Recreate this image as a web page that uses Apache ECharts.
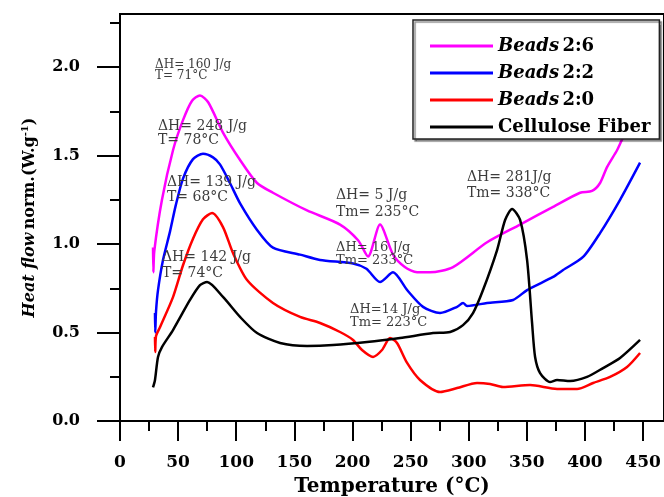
<!DOCTYPE html>
<html>
<head>
<meta charset="utf-8">
<script src="https://cdn.jsdelivr.net/npm/echarts@6.0.0/dist/echarts.min.js"></script>
<style>
  html, body { margin: 0; padding: 0; background: #fff; }
  #chart { width: 664px; height: 497px; }
</style>
</head>
<body>
<div id="chart"></div>
<script>
// [temperature °C, heat flow W/g]
var beads26 = [
  [28.4, 0.98], [28.7, 0.84], [29.5, 0.96], [36.1, 1.25], [45.6, 1.53], [54.2, 1.70],
  [62, 1.81], [68.8, 1.84], [76, 1.80], [88.6, 1.63], [103.3, 1.475], [117.9, 1.345],
  [131.6, 1.29], [160.9, 1.19], [189.3, 1.11], [205, 1.02], [213.4, 0.93], [223.7, 1.11],
  [234.9, 0.94], [245, 0.87], [255.6, 0.84], [266.7, 0.84], [286.5, 0.87], [315.8, 1.01],
  [344.2, 1.11], [372.6, 1.21], [395.8, 1.29], [406.1, 1.30], [413, 1.345], [419, 1.435],
  [427.6, 1.53], [431.9, 1.59], [447.4, 1.78]
];
var beads22 = [
  [30.1, 0.61], [30.3, 0.50], [31, 0.62], [32.7, 0.74], [37, 0.91], [43, 1.07],
  [48, 1.22], [54.2, 1.37], [62.8, 1.48], [71.4, 1.51], [80, 1.49], [86, 1.45], [94.6, 1.345],
  [103.3, 1.23], [117.9, 1.08], [131.6, 0.98], [154.9, 0.94], [172.1, 0.91], [200.5, 0.89],
  [212, 0.86], [223.7, 0.785], [234.9, 0.84], [247, 0.74], [260.7, 0.645], [275.3, 0.61],
  [290, 0.645], [295.1, 0.667], [298.6, 0.65], [315.8, 0.667], [338.2, 0.684], [350.2, 0.74],
  [372.6, 0.814], [381.2, 0.853], [398.4, 0.927], [413, 1.062], [430.2, 1.25], [447.4, 1.46]
];
var beads20 = [
  [30.1, 0.475], [30.3, 0.39], [31, 0.48], [34.4, 0.53], [45.6, 0.70], [54.2, 0.88],
  [62.8, 1.03], [71.4, 1.14], [79.2, 1.175], [88.6, 1.096], [97.2, 0.949], [109.3, 0.797],
  [131.6, 0.667], [154.9, 0.588], [172.1, 0.554], [189.3, 0.503], [200.5, 0.458], [208.2, 0.401],
  [217.7, 0.362], [225.4, 0.401], [232.3, 0.469], [238.3, 0.441], [247, 0.328], [258.1, 0.232],
  [275.3, 0.164], [290, 0.186], [307.2, 0.215], [318.4, 0.209], [329.5, 0.192], [352.8, 0.203],
  [376, 0.181], [393.2, 0.181], [407, 0.215], [421.6, 0.249], [436.2, 0.305], [447.4, 0.384]
];
var cellulose = [
  [28.4, 0.19], [30.1, 0.232], [32.7, 0.362], [36.1, 0.418], [45.6, 0.514], [60.2, 0.684],
  [68.8, 0.768], [74.9, 0.785], [88.6, 0.701], [103.3, 0.588], [117.9, 0.497], [137.7, 0.441],
  [160.9, 0.424], [183.3, 0.429], [212.5, 0.446], [240.9, 0.469], [269.3, 0.497], [284, 0.503],
  [295.1, 0.542], [303.7, 0.61], [312.3, 0.74], [324.4, 0.966], [331.3, 1.136], [337.3, 1.198],
  [344.2, 1.136], [350.2, 0.91], [354.5, 0.554], [357.1, 0.362], [361.4, 0.271], [370, 0.22],
  [376, 0.232], [387.2, 0.226], [401.8, 0.249], [415.6, 0.299], [430.2, 0.356], [447.4, 0.458]
];

var seriesNames = ['Beads 2:6', 'Beads 2:2', 'Beads 2:0', 'Cellulose Fiber'];
var seriesColors = ['#ff00ff', '#0000ff', '#ff0000', '#000000'];
var seriesData = [beads26, beads22, beads20, cellulose];

var xMajorTicks = [0, 50, 100, 150, 200, 250, 300, 350, 400, 450];
var xMinorTicks = [25, 75, 125, 175, 225, 275, 325, 375, 425];
var yMajorTicks = [0, 0.5, 1.0, 1.5, 2.0];
var yMinorTicks = [0.25, 0.75, 1.25, 1.75, 2.25];

var notes = [
  { text: 'ΔH= 160 J/g\nT= 71°C', left: 155, top: 59, size: 12, lh: 11 },
  { text: 'ΔH= 248 J/g\nT= 78°C', left: 158, top: 119, size: 14, lh: 14 },
  { text: 'ΔH= 139 J/g\nT= 68°C', left: 167, top: 175, size: 14, lh: 15 },
  { text: 'ΔH= 142 J/g\nT= 74°C', left: 162, top: 249, size: 14, lh: 16 },
  { text: 'ΔH= 5 J/g\nTm= 235°C', left: 336, top: 187, size: 14, lh: 17 },
  { text: 'ΔH= 16 J/g\nTm= 233°C', left: 336, top: 241, size: 13, lh: 13 },
  { text: 'ΔH= 281J/g\nTm= 338°C', left: 467, top: 169, size: 14, lh: 16 },
  { text: 'ΔH=14 J/g\nTm= 223°C', left: 350, top: 303, size: 13, lh: 13 }
];

var serif = '"DejaVu Serif", "Liberation Serif", serif';
var chart = echarts.init(document.getElementById('chart'));

var gridBox = { left: 120, right: 0, top: 14, bottom: 76, outerBoundsMode: 'none', containLabel: false };

var option = {
  backgroundColor: '#fff',
  animation: false,
  grid: [
    Object.assign({ show: true, borderColor: '#000', borderWidth: 2, backgroundColor: 'transparent' }, gridBox),
    Object.assign({ show: false }, gridBox)
  ],
  legend: {
    left: 413,
    top: 20,
    orient: 'vertical',
    data: seriesNames,
    icon: 'rect',
    itemWidth: 63,
    itemHeight: 3,
    itemGap: 7,
    padding: [16, 9, 2, 17],
    backgroundColor: '#fff',
    borderColor: '#222',
    borderWidth: 1.5,
    shadowColor: 'rgba(0,0,0,0.45)',
    shadowOffsetX: 2,
    shadowOffsetY: 2,
    shadowBlur: 1,
    formatter: function (name) {
      if (name.indexOf('Beads') === 0) return '{i|Beads} {b|' + name.slice(6) + '}';
      return '{b|' + name + '}';
    },
    textStyle: {
      lineHeight: 20,
      rich: {
        i: { fontFamily: serif, fontStyle: 'italic', fontWeight: 'bold', fontSize: 18, color: '#000' },
        b: { fontFamily: serif, fontWeight: 'bold', fontSize: 18, color: '#000' }
      }
    }
  },
  xAxis: [
    {
      gridIndex: 0, type: 'value', min: 0, max: 468,
      name: 'Temperature (°C)', nameLocation: 'middle', nameGap: 56,
      nameTextStyle: { fontFamily: serif, fontWeight: 'bold', fontSize: 20, color: '#000' },
      axisLine: { onZero: false, lineStyle: { color: '#000', width: 2 } },
      axisTick: { customValues: xMajorTicks, length: 20, lineStyle: { color: '#000', width: 2 } },
      axisLabel: { customValues: xMajorTicks, margin: 33, fontFamily: serif, fontWeight: 'bold', fontSize: 17, color: '#000' },
      splitLine: { show: false }
    },
    {
      gridIndex: 1, type: 'value', min: 0, max: 468,
      axisLine: { show: false, onZero: false },
      axisTick: { customValues: xMinorTicks, length: 10, lineStyle: { color: '#000', width: 2 } },
      axisLabel: { show: false },
      splitLine: { show: false }
    }
  ],
  yAxis: [
    {
      gridIndex: 0, type: 'value', min: 0, max: 2.3,
      name: '{i|Heat flow} {b|norm.(W.g}{s|-1}{b|)}', nameLocation: 'middle', nameGap: 80,
      nameTextStyle: {
        rich: {
          i: { fontFamily: serif, fontStyle: 'italic', fontWeight: 'bold', fontSize: 16, color: '#000' },
          b: { fontFamily: serif, fontWeight: 'bold', fontSize: 16, color: '#000' },
          s: { fontFamily: serif, fontWeight: 'bold', fontSize: 10, color: '#000', padding: [0, 0, 10, 0] }
        }
      },
      axisLine: { onZero: false, lineStyle: { color: '#000', width: 2 } },
      axisTick: { customValues: yMajorTicks, length: 23, lineStyle: { color: '#000', width: 2 } },
      axisLabel: {
        customValues: yMajorTicks, margin: 40, fontFamily: serif, fontWeight: 'bold', fontSize: 16, color: '#000',
        formatter: function (v) { return v.toFixed(1); }
      },
      splitLine: { show: false }
    },
    {
      gridIndex: 1, type: 'value', min: 0, max: 2.3,
      axisLine: { show: false, onZero: false },
      axisTick: { customValues: yMinorTicks, length: 10, lineStyle: { color: '#000', width: 2 } },
      axisLabel: { show: false },
      splitLine: { show: false }
    }
  ],
  series: seriesData.map(function (d, i) {
    return {
      name: seriesNames[i],
      type: 'line',
      xAxisIndex: 0,
      yAxisIndex: 0,
      data: d,
      smooth: 0.25,
      showSymbol: false,
      symbol: 'none',
      color: seriesColors[i],
      lineStyle: { color: seriesColors[i], width: 2.5 },
      itemStyle: { color: seriesColors[i] }
    };
  }),
  graphic: notes.map(function (n) {
    return {
      type: 'text',
      left: n.left,
      top: n.top,
      z: 5,
      style: {
        text: n.text,
        font: n.size + 'px ' + serif,
        lineHeight: n.lh,
        fill: '#3c3c3c'
      }
    };
  })
};

chart.setOption(option);
</script>
</body>
</html>
